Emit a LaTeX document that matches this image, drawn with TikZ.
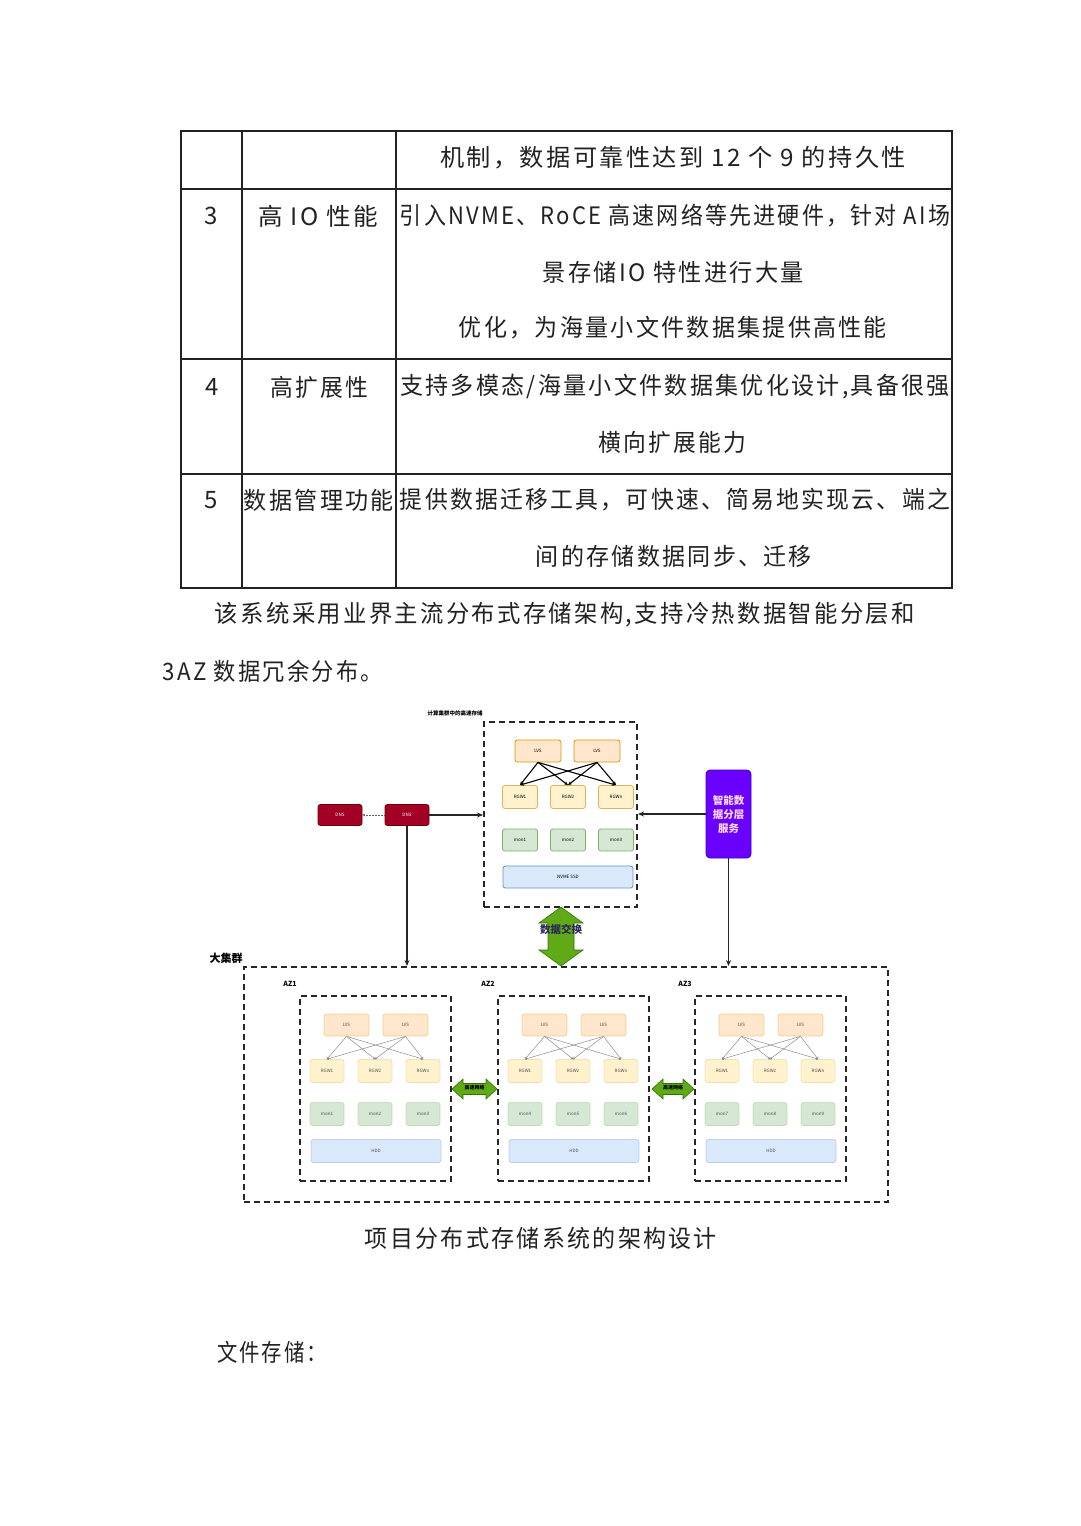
\documentclass[tikz,border=0pt]{standalone}
\usepackage{fontspec}
\usepackage{graphicx}
\setmainfont{Noto Sans CJK SC}
\setsansfont{Noto Sans CJK SC}
\newfontfamily\tf[LetterSpace=10]{Noto Sans CJK SC}
\usetikzlibrary{arrows.meta}
\definecolor{lvsfill}{HTML}{FFE6CC}\definecolor{lvsdraw}{HTML}{D79B00}
\definecolor{rgwfill}{HTML}{FFF2CC}\definecolor{rgwdraw}{HTML}{D6B656}
\definecolor{monfill}{HTML}{D5E8D4}\definecolor{mondraw}{HTML}{82B366}
\definecolor{ssdfill}{HTML}{DAE8FC}\definecolor{ssddraw}{HTML}{6C8EBF}
\definecolor{dnsfill}{HTML}{A20025}\definecolor{dnsdraw}{HTML}{6F0000}
\definecolor{purfill}{HTML}{6A00FF}\definecolor{purdraw}{HTML}{3700CC}
\definecolor{grnfill}{HTML}{60A917}\definecolor{grndraw}{HTML}{2D7600}
\definecolor{txt}{HTML}{222222}
\definecolor{dxtxt}{HTML}{2A2A55}
\newcommand{\fitl}[2]{\resizebox{#1pt}{\height}{\tf\fontsize{24}{28}\selectfont #2}}
\newcommand{\numt}[1]{{\fontsize{24}{28}\selectfont #1}}
\begin{document}
\begin{tikzpicture}[x=1pt,y=-1pt,
 box/.style={rectangle, rounded corners=2.5pt, line width=0.8pt, inner sep=0pt, font=\fontsize{4.5}{5}\selectfont},
 lvs/.style={box, fill=lvsfill, draw=lvsdraw, minimum width=46pt, minimum height=22pt},
 rgw/.style={box, fill=rgwfill, draw=rgwdraw, minimum width=35pt, minimum height=23pt},
 mon/.style={box, fill=monfill, draw=mondraw, minimum width=35pt, minimum height=22pt},
 ssd/.style={box, fill=ssdfill, draw=ssddraw, minimum width=130pt, minimum height=22pt},
 dns/.style={box, fill=dnsfill, draw=dnsdraw, text=white, minimum width=44pt, minimum height=21pt},
 fade/.style={draw opacity=0.35, text=black!70},
 dbox/.style={draw=black!85, line width=2pt, dash pattern=on 6pt off 4pt, inner sep=0pt},
 tline/.style={inner sep=0pt, text=txt},
 conn/.style={draw=black!85, line width=1.1pt, -{Stealth[length=6pt,width=5pt]}},
 xconn/.style={draw=black, line width=1.1pt, -{Stealth[length=4pt,width=3.5pt]}},
 gconn/.style={draw=black!45, line width=0.5pt, -{Circle[length=2.2pt]}},
 garrow/.style={fill=grnfill, draw=grndraw, line width=0.6pt},
 lab/.style={inner sep=0pt, text=black, font=\bfseries}
]
\path[fill=white] (0,0) rectangle (1080,1526);

% ---------------- table ----------------
\draw[line width=1.5pt, txt] (181,131) rectangle (952,588);
\draw[line width=1.5pt, txt] (181,189) -- (952,189) (181,359) -- (952,359) (181,474) -- (952,474);
\draw[line width=1.5pt, txt] (242,131) -- (242,588) (396,131) -- (396,588);

\node[tline] (r1) at (673,158) {\fitl{466}{机制，数据可靠性达到 12 个 9 的持久性}};
\node[tline] (r3n) at (211,216) {\numt{3}};
\node[tline] (r3h) at (318,216) {\fitl{120}{高 IO 性能}};
\node[tline] (r3a) at (675,216) {\fitl{550}{引入NVME、RoCE 高速网络等先进硬件，针对 AI场}};
\node[tline] (r3b) at (673.5,272) {\fitl{261}{景存储IO 特性进行大量}};
\node[tline] (r3c) at (673,328) {\fitl{428}{优化，为海量小文件数据集提供高性能}};
\node[tline] (r4n) at (212,387) {\numt{4}};
\node[tline] (r4h) at (319,387) {\fitl{98}{高扩展性}};
\node[tline] (r4a) at (675,387) {\fitl{550}{支持多模态/海量小文件数据集优化设计,具备很强}};
\node[tline] (r4b) at (672,442) {\fitl{148}{横向扩展能力}};
\node[tline] (r5n) at (211,500) {\numt{5}};
\node[tline] (r5h) at (319,500) {\fitl{150}{数据管理功能}};
\node[tline] (r5a) at (675,500) {\fitl{550}{提供数据迁移工具，可快速、简易地实现云、端之}};
\node[tline] (r5b) at (674,556) {\fitl{276}{间的存储数据同步、迁移}};

\node[tline] (p1) at (565,615) {\fitl{700}{该系统采用业界主流分布式存储架构,支持冷热数据智能分层和}};
\node[tline] (p2) at (273,671) {\fitl{220}{3AZ 数据冗余分布。}};
\node[tline] (cap) at (541,1238) {\fitl{352}{项目分布式存储系统的架构设计}};
\node[tline] (fs) at (272,1352) {\fitl{110}{文件存储：}};

% ---------------- top cluster ----------------
\node[lab, font=\bfseries\fontsize{5.5}{6}\selectfont] (ttl) at (455,713) {计算集群中的高速存储};
\node[dbox, minimum width=153pt, minimum height=185pt] (top) at (560.5,814.5) {};
\node[lvs] (lvs1) at (538,751) {LVS};
\node[lvs] (lvs2) at (597,751) {LVS};
\node[rgw] (rgw1) at (520,797) {RGW1};
\node[rgw] (rgw2) at (568,797) {RGW2};
\node[rgw] (rgw3) at (616,797) {RGWn};
\node[mon] (mon1) at (520,840) {mon1};
\node[mon] (mon2) at (568,840) {mon2};
\node[mon] (mon3) at (616,840) {mon3};
\node[ssd] (ssd) at (568,877) {NVME SSD};
\foreach \a in {lvs1,lvs2}{\foreach \b in {rgw1,rgw2,rgw3}{\draw[xconn] (\a.south) -- (\b.north);}}

% DNS
\node[dns] (dns1) at (340,815) {DNS};
\node[dns] (dns2) at (407,815) {DNS};
\draw[{Stealth[length=3pt,width=3pt]}-, line width=0.5pt, black!60, densely dotted] (dns1.east) -- (dns2.west);

% tiering service
\node[box, rounded corners=4pt, fill=purfill, draw=purdraw, text=white!85!magenta, minimum width=45pt, minimum height=88pt, align=center, font=\bfseries\fontsize{10.5}{14}\selectfont] (tier) at (728.5,814) {智能数\\据分层\\服务};

% big cluster
\node[lab, font=\bfseries\fontsize{11}{12}\selectfont] (bigl) at (226,958) {大集群};
\node[dbox, minimum width=644pt, minimum height=235pt] (big) at (566,1084.5) {};

\draw[conn] (dns2.east) -- (top.west |- dns2.east);
\draw[conn] (tier.west) -- (top.east |- tier.west);
\draw[conn] (dns2.south) -- (dns2.south |- big.north);
\draw[conn] (tier.south) -- (tier.south |- big.north);

% data exchange arrow
\draw[garrow] (561,907) -- (583,923) -- (574,923) -- (574,950) -- (583,950) -- (561,966) -- (539,950) -- (548,950) -- (548,923) -- (539,923) -- cycle;
\node[lab, text=dxtxt, font=\bfseries\fontsize{10.5}{12}\selectfont] (dx) at (561,929) {数据交换};

% AZs
\foreach \i/\x/\ma/\mb/\mc in {1/300/mon1/mon2/mon3,2/498/mon4/mon5/mon6,3/695/mon7/mon8/mon9}{
  \node[lab, font=\bfseries\fontsize{7}{8}\selectfont] (azl\i) at ({\x-10},984) {AZ\i};
  \node[dbox, line width=1.8pt, minimum width=151pt, minimum height=185pt] (az\i) at ({\x+75.5},1088.5) {};
  \node[lvs, fade, minimum width=45pt] (az\i-l1) at ({\x+46.5},1025) {LVS};
  \node[lvs, fade, minimum width=45pt] (az\i-l2) at ({\x+105.5},1025) {LVS};
  \node[rgw, fade, minimum width=34pt] (az\i-r1) at ({\x+27},1071) {RGW1};
  \node[rgw, fade, minimum width=34pt] (az\i-r2) at ({\x+75},1071) {RGW2};
  \node[rgw, fade, minimum width=34pt] (az\i-r3) at ({\x+123},1071) {RGWn};
  \node[mon, fade, minimum width=34pt, minimum height=23pt] (az\i-m1) at ({\x+27},1114) {\ma};
  \node[mon, fade, minimum width=34pt, minimum height=23pt] (az\i-m2) at ({\x+75},1114) {\mb};
  \node[mon, fade, minimum width=34pt, minimum height=23pt] (az\i-m3) at ({\x+123},1114) {\mc};
  \node[ssd, fade, minimum height=23pt] (az\i-h) at ({\x+76},1151) {HDD};
  \foreach \a in {l1,l2}{\foreach \b in {r1,r2,r3}{\draw[gconn] (az\i-\a.south) -- (az\i-\b.north);}}
}

% high-speed network arrows
\draw[garrow] (452,1089) -- (463,1079) -- (463,1083.5) -- (486,1083.5) -- (486,1079) -- (497,1089) -- (486,1099) -- (486,1094.5) -- (463,1094.5) -- (463,1099) -- cycle;
\node[lab, font=\bfseries\fontsize{5}{6}\selectfont] (hs1) at (474.5,1088) {高速网络};
\draw[garrow] (652,1089) -- (663,1079) -- (663,1083.5) -- (683,1083.5) -- (683,1079) -- (694,1089) -- (683,1099) -- (683,1094.5) -- (663,1094.5) -- (663,1099) -- cycle;
\node[lab, font=\bfseries\fontsize{5}{6}\selectfont] (hs2) at (673,1088) {高速网络};
\end{tikzpicture}
\end{document}
